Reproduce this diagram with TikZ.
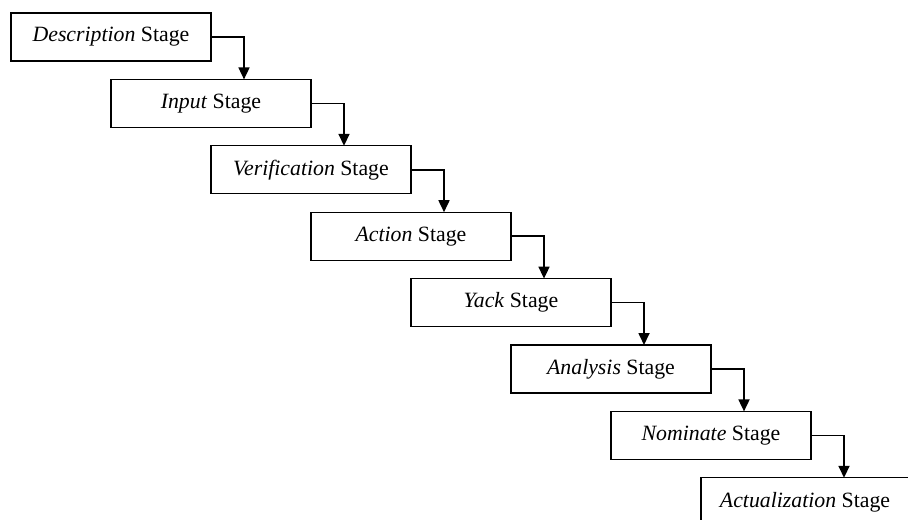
\documentclass[tikz,border=0pt]{standalone}
\usepackage{fontspec}
\setmainfont{Liberation Serif}
\usetikzlibrary{arrows.meta,positioning}

\begin{document}
\begin{tikzpicture}[node distance=9.2pt]
\tikzstyle {stage}=[rectangle, minimum width=100pt, minimum height=24pt, inner sep=0pt, outer sep=0pt, draw=black, line width=0.65pt, font=\fontsize{10.9}{13}\selectfont]
\tikzstyle {arr}=[line width=0.85pt, -{Triangle[length=6pt,width=5.5pt]}]
\useasboundingbox (0,0) rectangle (454pt,-259.5pt);
\clip (0,0) rectangle (454pt,-259.5pt);
\node (s0) [stage] at (55.5pt,-18.5pt) {\textit{Description} Stage};
\node (s1) [stage, below=of s0, xshift=50pt] {\textit{Input} Stage};
\node (s2) [stage, below=of s1, xshift=50pt] {\textit{Verification} Stage};
\node (s3) [stage, below=of s2, xshift=50pt] {\textit{Action} Stage};
\node (s4) [stage, below=of s3, xshift=50pt] {\textit{Yack} Stage};
\node (s5) [stage, below=of s4, xshift=50pt] {\textit{Analysis} Stage};
\node (s6) [stage, below=of s5, xshift=50pt] {\textit{Nominate} Stage};
\node (s7) [stage, minimum width=104pt, below=of s6, xshift=47pt] {\textit{Actualization} Stage};
\draw[arr] (s0.east) -| ([xshift=16.5pt]s0.east |- s1.north);
\draw[arr] (s1.east) -| ([xshift=16.5pt]s1.east |- s2.north);
\draw[arr] (s2.east) -| ([xshift=16.5pt]s2.east |- s3.north);
\draw[arr] (s3.east) -| ([xshift=16.5pt]s3.east |- s4.north);
\draw[arr] (s4.east) -| ([xshift=16.5pt]s4.east |- s5.north);
\draw[arr] (s5.east) -| ([xshift=16.5pt]s5.east |- s6.north);
\draw[arr] (s6.east) -| ([xshift=16.5pt]s6.east |- s7.north);
\end{tikzpicture}
\end{document}
